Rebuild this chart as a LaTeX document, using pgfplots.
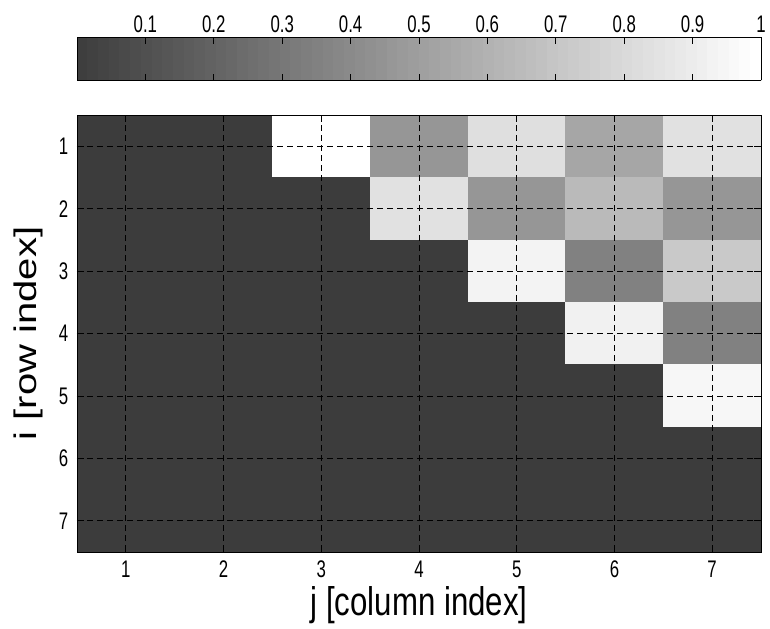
\documentclass[border=0pt]{standalone}
\usepackage{fontspec}
\setmainfont{Liberation Sans}[FakeStretch=0.78]
\newfontfamily\plainsans{Liberation Sans}
\newfontfamily\tickfont{Liberation Sans}[FakeStretch=0.7]
\usepackage{graphicx}
\usepackage{pgfplots}
\usepackage{pgfplotstable}
\pgfplotsset{compat=1.18}
\pgfplotstableread{
x y c
1 1 0
2 1 0
3 1 1
4 1 0.46
5 1 0.83
6 1 0.54
7 1 0.84
1 2 0
2 2 0
3 2 0
4 2 0.84
5 2 0.46
6 2 0.64
7 2 0.46
1 3 0
2 3 0
3 3 0
4 3 0
5 3 0.93
6 3 0.35
7 3 0.72
1 4 0
2 4 0
3 4 0
4 4 0
5 4 0
6 4 0.92
7 4 0.35
1 5 0
2 5 0
3 5 0
4 5 0
5 5 0
6 5 0
7 5 0.95
1 6 0
2 6 0
3 6 0
4 6 0
5 6 0
6 6 0
7 6 0
1 7 0
2 7 0
3 7 0
4 7 0
5 7 0
6 7 0
7 7 0
}\datatable
\begin{document}
\begin{tikzpicture}
\begin{axis}[
  at={(0,0)}, anchor=south west,
  scale only axis, width=513pt, height=327.75pt,
  xmin=0.5, xmax=7.5, ymin=0.5, ymax=7.5, y dir=reverse,
  enlargelimits=false,
  xtick={1,...,7}, ytick={1,...,7},
  xticklabels={1,2,3,4,5,6,7},
  yticklabels={1,2,3,4,5,6,7},
  grid=major,
  major grid style={black, dash pattern=on 4.5pt off 3pt, line width=0.6pt},
  axis on top,
  tick align=inside, major tick length=5pt,
  tick style={black, line width=0.6pt},
  axis line style={black, line width=0.6pt},
  colormap={mygray}{rgb255=(60,60,60) rgb255=(255,255,255)},
  point meta min=0, point meta max=1,
  tick label style={font=\tickfont\fontsize{18}{21}\selectfont},
  xticklabel style={yshift=-3pt},
  yticklabel style={xshift=-3pt},
  xlabel={j [column index]},
  ylabel={\scalebox{1}[0.78]{\plainsans i [row index]}},
  xlabel style={font=\fontsize{30}{36}\selectfont, at={(axis description cs:0.5,-0.1213)}, anchor=center},
  ylabel style={font=\fontsize{30}{36}\selectfont, at={(axis description cs:-0.0716,0.5)}, anchor=center},
  colorbar sampled, colorbar horizontal,
  colorbar style={
    samples=65,
    at={(parent axis.north west)}, anchor=south west, yshift=34.5pt,
    scale only axis, width=513pt, height=32.25pt,
    y dir=normal,
    xticklabel pos=upper, xtick pos=both,
    xtick={0.1,0.2,0.3,0.4,0.5,0.6,0.7,0.8,0.9,1},
    xticklabels={0.1,0.2,0.3,0.4,0.5,0.6,0.7,0.8,0.9,1},
    ytick=\empty,
    tick align=inside, major tick length=5pt,
    tick style={black, line width=0.6pt},
    axis line style={black, line width=0.6pt},
    tick label style={font=\tickfont\fontsize{18}{21}\selectfont},
  },
]
\addplot[matrix plot*, mesh/cols=7, point meta=explicit] table[x=x, y=y, meta=c] {\datatable};
\end{axis}
\pgfresetboundingbox
\path[use as bounding box] (-57.75pt,-57pt) rectangle (519.75pt,414pt);
\end{tikzpicture}
\end{document}
